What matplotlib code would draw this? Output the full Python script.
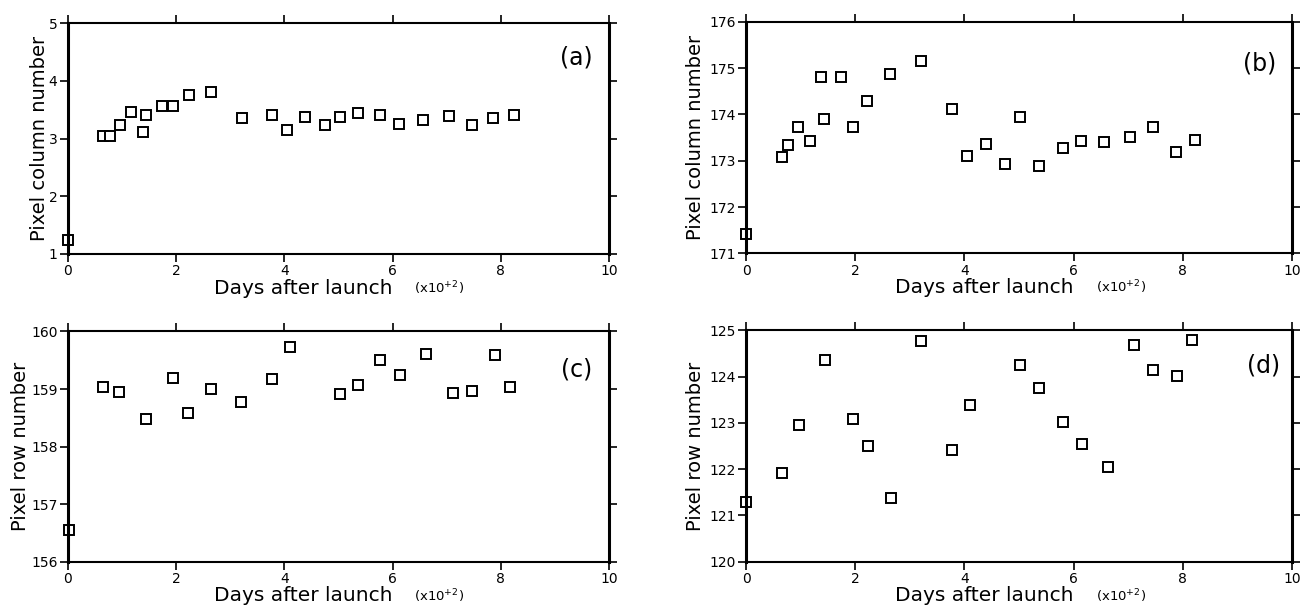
import matplotlib
matplotlib.use("Agg")
import matplotlib.pyplot as plt

# Days after launch, in units of 100 days
days_a = [0.0, 0.64, 0.78, 0.96, 1.16, 1.38, 1.44, 1.74, 1.95, 2.23, 2.65, 3.21,
          3.78, 4.04, 4.38, 4.75, 5.03, 5.37, 5.77, 6.12, 6.56, 7.05, 7.47, 7.86, 8.24]
col_a = [1.25, 3.04, 3.05, 3.24, 3.46, 3.12, 3.41, 3.57, 3.56, 3.76, 3.81, 3.36,
         3.40, 3.15, 3.37, 3.23, 3.37, 3.45, 3.41, 3.25, 3.32, 3.39, 3.23, 3.35, 3.41]

days_b = [0.0, 0.65, 0.77, 0.96, 1.17, 1.37, 1.43, 1.73, 1.95, 2.22, 2.64, 3.20,
          3.77, 4.05, 4.40, 4.75, 5.02, 5.37, 5.80, 6.14, 6.56, 7.04, 7.45, 7.88, 8.23]
col_b = [171.41, 173.08, 173.34, 173.72, 173.43, 174.81, 173.90, 174.81, 173.72,
         174.30, 174.87, 175.15, 174.11, 173.11, 173.36, 172.94, 173.94, 172.89,
         173.28, 173.42, 173.40, 173.52, 173.73, 173.19, 173.44]

days_c = [0.01, 0.64, 0.95, 1.44, 1.94, 2.22, 2.64, 3.20, 3.77, 4.11,
          5.03, 5.37, 5.77, 6.13, 6.61, 7.12, 7.47, 7.89, 8.17]
row_c = [156.55, 159.03, 158.94, 158.48, 159.20, 158.58, 159.00, 158.78, 159.17,
         159.73, 158.92, 159.07, 159.51, 159.24, 159.61, 158.93, 158.96, 159.59, 159.04]

days_d = [0.0, 0.65, 0.97, 1.44, 1.95, 2.23, 2.65, 3.21, 3.78, 4.11,
          5.02, 5.37, 5.80, 6.15, 6.63, 7.10, 7.46, 7.89, 8.17]
row_d = [121.30, 121.92, 122.96, 124.35, 123.09, 122.50, 121.37, 124.76, 122.42,
         123.38, 124.26, 123.76, 123.01, 122.55, 122.04, 124.68, 124.15, 124.01, 124.78]

x_ticks = [0, 2, 4, 6, 8, 10]

panels = [
    dict(x=days_a, y=col_a, ylim=(1, 5), yticks=[1, 2, 3, 4, 5],
         ylabel="Pixel column number", tag="(a)", tagpos=(0.94, 0.853),
         rect=[0.0522, 0.583, 0.4155, 0.379], labelpad=0),
    dict(x=days_b, y=col_b, ylim=(171, 176), yticks=[171, 172, 173, 174, 175, 176],
         ylabel="Pixel column number", tag="(b)", tagpos=(0.941, 0.822),
         rect=[0.573, 0.584, 0.4194, 0.380], labelpad=3),
    dict(x=days_c, y=row_c, ylim=(156, 160), yticks=[156, 157, 158, 159, 160],
         ylabel="Pixel row number", tag="(c)", tagpos=(0.94, 0.833),
         rect=[0.0522, 0.0777, 0.4155, 0.378], labelpad=1),
    dict(x=days_d, y=row_d, ylim=(120, 125), yticks=[120, 121, 122, 123, 124, 125],
         ylabel="Pixel row number", tag="(d)", tagpos=(0.947, 0.849),
         rect=[0.573, 0.0777, 0.4194, 0.380], labelpad=3),
]

fig = plt.figure(figsize=(13.02, 6.09), dpi=100)

for p in panels:
    ax = fig.add_axes(p["rect"])
    ax.plot(p["x"], p["y"], linestyle="none", marker="s", markersize=6.6,
            markerfacecolor="white", markeredgecolor="black", markeredgewidth=1.4,
            clip_on=False)
    ax.set_xlim(0, 10)
    ax.set_ylim(*p["ylim"])
    ax.set_xticks(x_ticks)
    ax.set_xticklabels([str(t) for t in x_ticks])
    ax.set_yticks(p["yticks"])
    ax.set_yticklabels([str(t) for t in p["yticks"]])
    ax.tick_params(direction="out", length=6, width=1.2, top=True, right=True,
                   labelsize=10, pad=1.5, colors="black")
    for s in ax.spines.values():
        s.set_linewidth(1.5)
    ax.spines["left"].set_linewidth(2.2)
    ax.spines["right"].set_linewidth(2.2)
    ax.set_ylabel(p["ylabel"], fontsize=14, labelpad=p["labelpad"])
    ax.text(0.60, -0.148, "Days after launch", transform=ax.transAxes,
            ha="right", va="center", fontsize=14.5)
    ax.text(0.64, -0.148, r"(x10$^{+2}$)", transform=ax.transAxes,
            ha="left", va="center", fontsize=9.5)
    ax.text(p["tagpos"][0], p["tagpos"][1], p["tag"], transform=ax.transAxes,
            ha="center", va="center", fontsize=17)

fig.savefig("out.png", dpi=100, facecolor="white")
